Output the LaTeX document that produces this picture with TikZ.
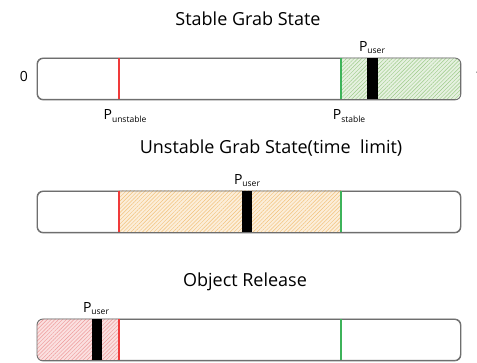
\documentclass[tikz,border=0pt]{standalone}
\usepackage{fontspec}
\setmainfont{Open Sans}
\usetikzlibrary{patterns.meta}
\definecolor{barline}{HTML}{6E6E6E}
\definecolor{mred}{HTML}{F03A3A}
\definecolor{mgreen}{HTML}{3DB35A}
\definecolor{hgreen}{HTML}{9CCB88}
\definecolor{bgreen}{HTML}{E6F1E0}
\definecolor{horange}{HTML}{F2C27A}
\definecolor{borange}{HTML}{FCEEDA}
\definecolor{hred}{HTML}{EE9A9A}
\definecolor{bred}{HTML}{FBE0E0}
\tikzset{
  bar/.style={draw=barline, line width=0.9pt, rounded corners=6pt, minimum width=423pt, minimum height=41pt, inner sep=0pt, anchor=north west},
  title/.style={font=\fontsize{18}{21}\selectfont, inner sep=0pt, anchor=base},
  lbl/.style={inner sep=0pt, anchor=base},
  redmark/.style={draw=mred, line width=1.4pt},
  greenmark/.style={draw=mgreen, line width=1.6pt},
  usermark/.style={fill=black},
  hatch/.style 2 args={fill=#2, postaction={pattern={Lines[angle=45,distance=2.7pt,line width=0.45pt]}, pattern color=#1}}
}
\newcommand{\Pl}[1]{{\fontsize{14}{16}\selectfont P}\raisebox{-2.5pt}{\fontsize{8.5}{10}\selectfont #1}}
\begin{document}
\begin{tikzpicture}[x=1pt,y=-1pt]
\useasboundingbox (0,0) rectangle (477,363);
% ---------- Stable Grab State ----------
\node[title] (t1) at (248,26) {Stable Grab State};
\node[bar] (b1) at (37,58) {};
\begin{scope}
  \clip[rounded corners=6pt] (b1.north west) rectangle (b1.south east);
  \path[hatch={hgreen}{bgreen}] (341,58) rectangle (460,99);
\end{scope}
\draw[bar, fill=none] (b1.north west) rectangle (b1.south east);
\coordinate (r1t) at (119,58); \coordinate (r1b) at (119,99);
\draw[redmark] (r1t) -- (r1b);
\coordinate (g1t) at (341,58); \coordinate (g1b) at (341,99);
\draw[greenmark] (g1t) -- (g1b);
\fill[usermark] (367,58) rectangle (378,99);
\node[lbl] (u1) at (372,51.5) {\Pl{user}};
\node[lbl] (pu) at (125,120) {\Pl{unstable}};
\node[lbl] (ps) at (349,120) {\Pl{stable}};
\node[font=\fontsize{14}{16}\selectfont, inner sep=0pt] (zero) at (24,76) {0};
\node[font=\fontsize{14}{16}\selectfont, inner sep=0pt] (one) at (479,76) {1};
% ---------- Unstable Grab State ----------
\node[title] (t2) at (271,154) {Unstable Grab State(time\ \ limit)};
\node[bar] (b2) at (37,191) {};
\path[hatch={horange}{borange}] (119,191) rectangle (341,232);
\draw[bar, fill=none] (b2.north west) rectangle (b2.south east);
\draw[redmark] (119,191) -- (119,232);
\draw[greenmark] (341,191) -- (341,232);
\fill[usermark] (242,191) rectangle (252,232);
\node[lbl] (u2) at (247,184.5) {\Pl{user}};
% ---------- Object Release ----------
\node[title] (t3) at (245,287) {Object Release};
\node[bar] (b3) at (37,319) {};
\begin{scope}
  \clip[rounded corners=6pt] (b3.north west) rectangle (b3.south east);
  \path[hatch={hred}{bred}] (37,319) rectangle (119,360);
\end{scope}
\draw[bar, fill=none] (b3.north west) rectangle (b3.south east);
\draw[redmark] (119,319) -- (119,360);
\draw[greenmark] (341,319) -- (341,360);
\fill[usermark] (92,319) rectangle (102,360);
\node[lbl] (u3) at (96,312.5) {\Pl{user}};
\end{tikzpicture}
\end{document}
